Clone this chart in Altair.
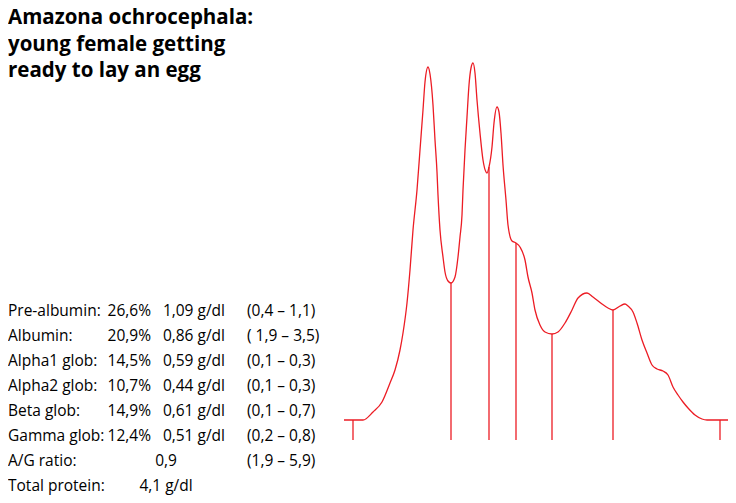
import altair as alt
import pandas as pd

# Densitometry curve (x: migration units, y: height above baseline)
curve_x = [0, 19, 29, 38, 46, 51, 56, 59, 63, 66, 69, 73, 76, 79, 81, 84, 86, 89, 91, 93,
           94, 96, 99, 101, 104, 107, 111, 114, 116, 118, 119, 121, 123, 125, 127, 129, 131,
           133, 136, 139, 142, 143, 145, 148, 150, 153, 155, 157, 159, 162, 164, 168, 172,
           176, 181, 184, 188, 191, 196, 201, 208, 214, 221, 228, 234, 243, 249, 258, 264,
           269, 276, 281, 284, 289, 293, 298, 303, 308, 313, 319, 324, 329, 334, 339, 344,
           351, 358, 363, 389]
curve_y = [0, 0, 8, 18, 37, 50, 70, 87, 117, 150, 190, 230, 270, 310, 338, 353, 346, 315, 280,
           248, 225, 190, 163, 148, 139, 137, 143, 163, 183, 205, 230, 270, 303, 335, 352, 357,
           347, 320, 287, 260, 248, 247, 253, 273, 297, 313, 308, 287, 255, 220, 195, 179, 177,
           173, 160, 143, 127, 110, 95, 88, 86, 88, 97, 110, 122, 127, 123, 116, 112, 110, 114,
           116, 114, 108, 97, 80, 67, 55, 51, 49, 45, 33, 25, 18, 12, 5, 1, 0, 0]

# Fraction separators (position, height at curve)
sep_x = [107, 145, 172, 208, 269]
sep_top = [137, 253, 177, 86, 110]
# End markers
end_x = [9, 376]

title_lines = "Amazona ochrocephala:\nyoung female getting\nready to lay an egg"

names = ["Pre-albumin:", "Albumin:", "Alpha1 glob:", "Alpha2 glob:", "Beta glob:",
         "Gamma glob:", "A/G ratio:", "Total protein:"]
pcts = ["26,6%", "20,9%", "14,5%", "10,7%", "14,9%", "12,4%"]
gdls = ["1,09 g/dl", "0,86 g/dl", "0,59 g/dl", "0,44 g/dl", "0,61 g/dl", "0,51 g/dl"]
extra_vals = ["0,9", "4,1 g/dl"]
ranges = ["(0,4 – 1,1)", "( 1,9 – 3,5)", "(0,1 – 0,3)", "(0,1 – 0,3)", "(0,1 – 0,7)",
          "(0,2 – 0,8)", "(1,9 – 5,9)"]

RED = "#ec1c24"
FONT = "Open Sans"
FS = 15.5

xs = alt.Scale(domain=[-336, 384])
ys = alt.Scale(domain=[-75, 412])
rowscale = alt.Scale(domain=[0, 7], range=[308, 483])

curve_df = pd.DataFrame({"x": curve_x, "h": curve_y})
curve = alt.Chart(curve_df).mark_line(color=RED, strokeWidth=1.3, interpolate="monotone").encode(
    x=alt.X("x:Q", scale=xs, axis=None),
    y=alt.Y("h:Q", scale=ys, axis=None),
)

sep_df = pd.DataFrame({"x": sep_x, "top": sep_top, "bot": [-20] * len(sep_x)})
seps = alt.Chart(sep_df).mark_rule(color=RED, strokeWidth=1.3).encode(
    x=alt.X("x:Q", scale=xs, axis=None),
    y=alt.Y("top:Q", scale=ys, axis=None),
    y2="bot:Q",
)

end_df = pd.DataFrame({"x": end_x, "top": [0, 0], "bot": [-20, -20]})
ends = alt.Chart(end_df).mark_rule(color=RED, strokeWidth=1.3).encode(
    x=alt.X("x:Q", scale=xs, axis=None),
    y=alt.Y("top:Q", scale=ys, axis=None),
    y2="bot:Q",
)

title_df = pd.DataFrame({"t": [title_lines]})
title = alt.Chart(title_df).mark_text(
    font=FONT, fontSize=20.5, fontWeight="bold", align="left", baseline="alphabetic",
    lineBreak="\n", lineHeight=26.5, color="black"
).encode(x=alt.value(0), y=alt.value(16), text="t:N")


def col(texts, rows, xpos, align):
    df = pd.DataFrame({"t": texts, "row": rows})
    return alt.Chart(df).mark_text(
        font=FONT, fontSize=FS, align=align, baseline="alphabetic", color="black"
    ).encode(
        x=alt.value(xpos),
        y=alt.Y("row:Q", scale=rowscale, axis=None),
        text="t:N",
    )


names_l = col(names, list(range(8)), 0, "left")
pct_l = col(pcts, list(range(6)), 143, "right")
gdl_l = col(gdls, list(range(6)), 217, "right")
extra_l = col(extra_vals, [6, 7], 158, "center")
range_l = col(ranges, list(range(7)), 239, "left")

chart = alt.layer(curve, seps, ends, title, names_l, pct_l, gdl_l, extra_l, range_l).resolve_scale(
    y="independent"
).properties(
    width=720, height=487, padding=0, autosize="none"
).configure_view(stroke=None)

chart.save("out.html", embed_options={"renderer": "svg", "actions": False})
